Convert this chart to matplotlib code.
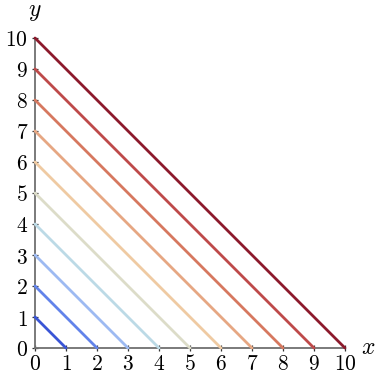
import matplotlib
matplotlib.use("Agg")
import matplotlib.pyplot as plt

plt.rcParams["mathtext.fontset"] = "cm"
plt.rcParams["font.family"] = "serif"
plt.rcParams["font.serif"] = ["DejaVu Serif"]

# lines x + y = c
intercepts = [1, 2, 3, 4, 5, 6, 7, 8, 9, 10]
ticks = list(range(0, 11))

line_colors = [
    "#3a55d6", "#6283ea", "#9dbaf2", "#bcdae6", "#dcdcc8",
    "#efcaa2", "#e6a783", "#d6785f", "#be4a4a", "#8c1a2c",
]


def generate_plot():
    fig = plt.figure(figsize=(3.75, 3.76), dpi=100)
    ax = fig.add_axes([35 / 375, 28 / 376, 310 / 375, 310 / 376])

    for c, col in zip(intercepts, line_colors):
        ax.plot([0, c], [c, 0], color=col, linewidth=2.0,
                solid_capstyle="round", clip_on=False, zorder=3)

    ax.set_xlim(0, 10)
    ax.set_ylim(0, 10)

    for side in ["top", "right"]:
        ax.spines[side].set_visible(False)
    for side in ["left", "bottom"]:
        ax.spines[side].set_color("#707070")
        ax.spines[side].set_linewidth(1.3)

    ax.set_xticks(ticks)
    ax.set_yticks(ticks)
    ax.set_xticklabels([f"${t}$" for t in ticks], fontsize=15.5)
    ax.set_yticklabels([f"${t}$" for t in ticks], fontsize=15.5)
    ax.tick_params(direction="inout", length=4, width=0.9, color="#333333",
                   pad=3)
    ax.tick_params(axis="x", pad=1.5)

    ax.text(1.075, 0.0, "$x$", transform=ax.transAxes, fontsize=17,
            ha="center", va="center")
    ax.text(0.0, 1.085, "$y$", transform=ax.transAxes, fontsize=17,
            ha="center", va="center")

    fig.savefig("out.png", dpi=100)
    plt.close(fig)


if __name__ == "__main__":
    generate_plot()
